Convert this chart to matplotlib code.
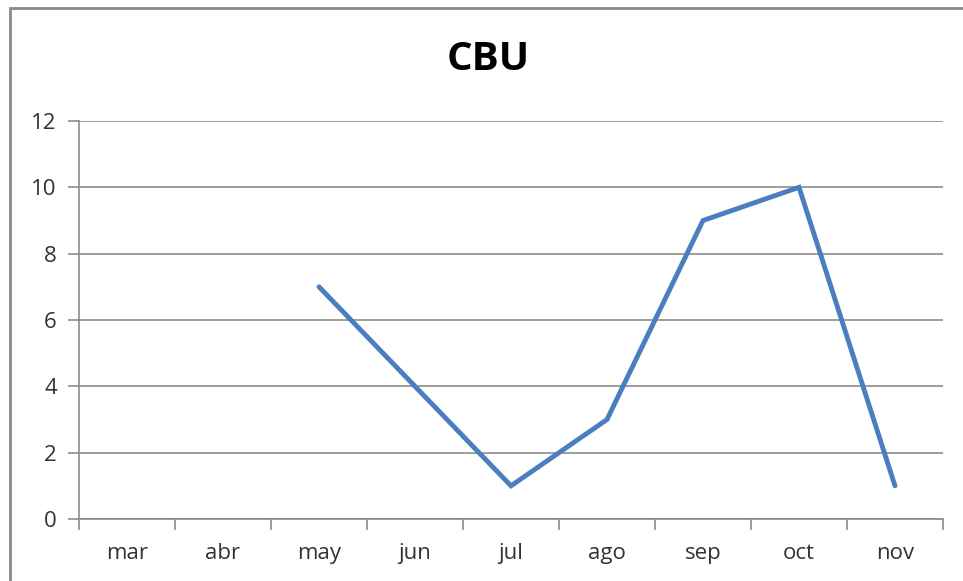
import numpy as np
import matplotlib.pyplot as plt
from matplotlib.patches import Rectangle
from matplotlib.ticker import FixedLocator

months = ['mar', 'abr', 'may', 'jun', 'jul', 'ago', 'sep', 'oct', 'nov']
cbu = [np.nan, np.nan, 7, 4, 1, 3, 9, 10, 1]

plt.rcParams['font.family'] = ['Open Sans', 'DejaVu Sans']

fig = plt.figure(figsize=(9.63, 5.81), dpi=100)
ax = fig.add_axes([79/963, 1 - 519/581, (943 - 79)/963, (519 - 121)/581])

x = np.arange(len(months))
ax.plot(x, cbu, color='#4A7EBE', lw=3.5, solid_capstyle='round', solid_joinstyle='miter')

ax.set_xlim(-0.5, len(months) - 0.5)
ax.set_ylim(0, 12)
ax.set_yticks(range(0, 13, 2))
ax.set_xticks(x)
ax.set_xticklabels(months)
ax.xaxis.set_minor_locator(FixedLocator(np.arange(-0.5, len(months), 1)))
ax.tick_params(axis='x', which='major', length=0, pad=17, labelsize=16, colors='#333333')
ax.tick_params(axis='x', which='minor', length=8, width=1.2, color='#8c8c8c')
ax.tick_params(axis='y', length=8, width=1.2, color='#8c8c8c', labelsize=16,
               labelcolor='#333333', pad=8)
ax.grid(axis='y', color='#8c8c8c', lw=1.2)
ax.set_axisbelow(True)
for s in ['top', 'right']:
    ax.spines[s].set_visible(False)
for s in ['left', 'bottom']:
    ax.spines[s].set_color('#8c8c8c')
    ax.spines[s].set_linewidth(1.2)

fig.text(488/963, 1 - 59/581, 'CBU', ha='center', va='center',
         fontsize=29, fontweight='bold', color='black')

fig.patches.append(Rectangle((10/963, -0.1), 1.1, 1 - 8/581 + 0.1,
                             transform=fig.transFigure, fill=False,
                             edgecolor='#8a8a8a', lw=2))

fig.savefig('out.png', dpi=100)
